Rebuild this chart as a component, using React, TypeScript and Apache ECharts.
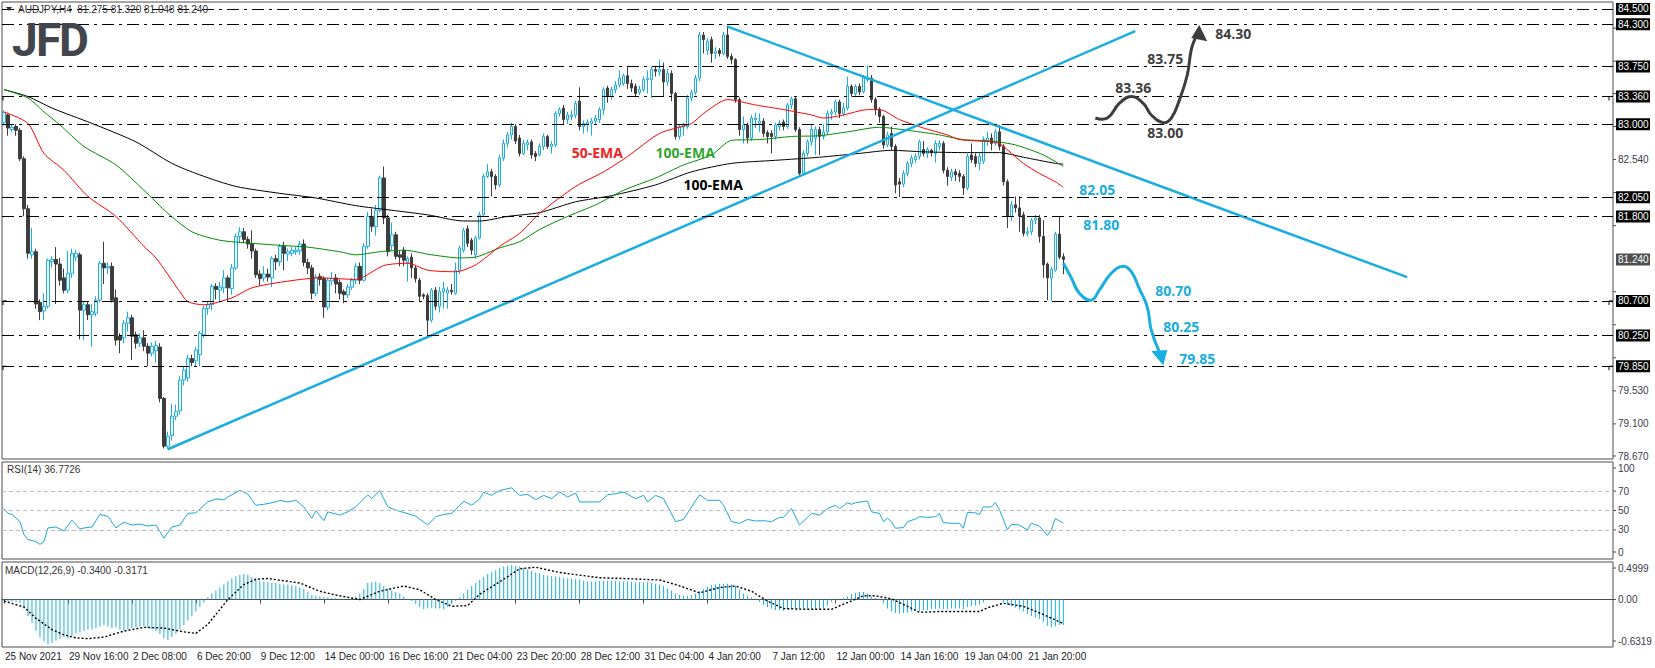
import React, { useEffect, useRef } from 'react';
import * as echarts from 'echarts';

// ---------- data ----------
const dateLabels = [
  '25 Nov 2021', '29 Nov 16:00', '2 Dec 08:00', '6 Dec 20:00', '9 Dec 12:00', '14 Dec 00:00',
  '16 Dec 16:00', '21 Dec 04:00', '23 Dec 20:00', '28 Dec 12:00', '31 Dec 04:00', '4 Jan 20:00',
  '7 Jan 12:00', '12 Jan 00:00', '14 Jan 16:00', '19 Jan 04:00', '21 Jan 20:00',
];
const barsPerLabel = 16;
const slotCount = 403;

// [open, close, low, high]
const candles: number[][] = [
  [83.02,83.15,82.98,83.18],[83.12,82.95,82.85,83.14],[82.93,82.96,82.90,83.00],[82.97,82.92,82.85,83.00],
  [82.92,82.55,82.52,82.95],[82.55,81.90,81.80,82.58],[81.90,81.32,81.25,81.95],[81.30,81.34,81.25,81.65],
  [81.34,80.66,80.60,81.38],[80.68,80.56,80.45,80.72],[80.57,80.63,80.45,80.80],[80.63,81.23,80.60,81.25],
  [81.21,81.24,81.14,81.28],[81.24,81.18,80.66,81.40],[81.18,80.97,80.90,81.26],[81.00,80.84,80.80,81.12],
  [80.84,81.06,80.80,81.35],[81.06,81.32,81.00,81.38],[81.27,81.32,81.22,81.36],[81.30,80.58,80.20,81.33],
  [80.58,80.65,80.19,80.70],[80.65,80.52,80.45,80.70],[80.52,80.56,80.10,80.66],[80.54,80.71,80.50,80.76],
  [80.71,81.19,80.68,81.22],[81.19,81.13,80.92,81.47],[81.13,81.15,81.05,81.20],[81.15,80.71,80.68,81.20],
  [80.74,80.19,80.12,80.85],[80.24,80.19,80.02,80.28],[80.22,80.41,80.15,80.45],[80.41,80.48,80.30,80.56],
  [80.48,80.24,79.93,80.52],[80.26,80.15,80.08,80.30],[80.15,80.22,80.10,80.28],[80.22,80.11,80.05,80.32],
  [80.11,80.02,79.85,80.15],[80.02,80.11,79.98,80.16],[80.05,80.12,79.90,80.18],[80.10,79.43,79.38,80.15],
  [79.43,78.81,78.78,79.45],[78.81,78.94,78.77,79.00],[78.95,79.20,78.88,79.36],[79.20,79.26,79.15,79.35],
  [79.27,79.67,79.22,79.72],[79.67,79.80,79.60,79.85],[79.70,79.95,79.65,80.00],[79.95,79.90,79.85,80.00],
  [79.92,80.06,79.85,80.10],[80.00,80.28,79.85,80.31],[80.26,80.60,80.22,80.64],[80.60,80.65,80.52,80.70],
  [80.65,80.89,80.58,80.92],[80.89,80.85,80.72,80.93],[80.84,80.88,80.68,80.95],[80.87,81.00,80.80,81.10],
  [81.00,80.87,80.70,81.03],[80.86,81.13,80.78,81.18],[81.13,81.54,81.10,81.58],[81.54,81.60,81.45,81.66],
  [81.60,81.50,81.45,81.65],[81.50,81.44,81.38,81.54],[81.44,81.35,81.25,81.62],[81.35,81.04,81.00,81.38],
  [81.05,80.99,80.90,81.10],[81.00,81.05,80.95,81.15],[81.05,81.01,80.95,81.12],[81.00,81.25,80.88,81.28],
  [81.25,81.21,81.10,81.30],[81.21,81.41,81.15,81.44],[81.41,81.32,81.10,81.47],[81.31,81.34,81.22,81.38],
  [81.32,81.36,81.28,81.40],[81.34,81.36,81.30,81.40],[81.35,81.44,81.30,81.48],[81.44,81.20,81.15,81.50],
  [81.20,81.13,81.05,81.25],[81.13,80.80,80.72,81.17],[80.80,81.01,80.76,81.05],[81.02,80.98,80.90,81.06],
  [80.99,80.62,80.48,81.02],[80.62,80.97,80.58,81.00],[80.96,80.99,80.90,81.08],[81.00,80.92,80.80,81.05],
  [80.94,80.80,80.72,80.98],[80.82,80.78,80.67,80.85],[80.78,80.88,80.74,80.92],[80.88,80.97,80.84,81.00],
  [80.97,81.15,80.92,81.19],[81.15,80.97,80.92,81.20],[80.97,81.41,80.95,81.45],[81.41,81.80,81.38,81.86],
  [81.80,81.67,81.60,81.90],[81.67,81.88,81.55,81.95],[81.88,82.30,81.85,82.33],[82.30,81.78,81.70,82.45],
  [81.78,81.34,81.28,81.82],[81.42,81.56,81.35,81.72],[81.56,81.28,81.24,81.60],[81.30,81.27,81.15,81.35],
  [81.36,81.23,81.15,81.40],[81.20,81.25,80.95,81.28],[81.27,81.13,81.00,81.32],[81.13,80.99,80.94,81.16],
  [80.97,80.76,80.70,81.00],[80.78,80.76,80.72,80.80],[80.77,80.45,80.26,80.80],[80.45,80.84,80.42,80.87],
  [80.84,80.63,80.58,80.88],[80.63,80.82,80.55,80.88],[80.82,80.86,80.60,80.95],[80.80,80.84,80.60,80.88],
  [80.84,80.82,80.78,80.92],[80.80,81.10,80.78,81.20],[81.10,81.39,81.05,81.42],[81.36,81.62,81.33,81.65],
  [81.64,81.45,81.40,81.68],[81.49,81.36,81.30,81.52],[81.30,81.52,81.25,81.55],[81.52,81.82,81.50,81.86],
  [81.82,82.32,81.80,82.36],[82.32,82.38,82.30,82.48],[82.38,82.32,82.06,82.42],[82.32,82.21,82.15,82.35],
  [82.21,82.56,82.18,82.60],[82.56,82.75,82.52,82.80],[82.75,82.86,82.70,82.90],[82.86,82.97,82.80,83.02],
  [82.97,82.78,82.74,83.00],[82.82,82.62,82.58,82.86],[82.62,82.75,82.60,82.80],[82.73,82.76,82.66,82.80],
  [82.77,82.60,82.55,82.80],[82.62,82.58,82.52,82.65],[82.60,82.71,82.58,82.75],[82.71,82.84,82.66,82.88],
  [82.84,82.71,82.68,82.86],[82.71,82.74,82.62,82.78],[82.73,83.14,82.70,83.17],[83.14,83.19,83.10,83.22],
  [83.21,83.06,83.00,83.25],[83.06,83.12,83.00,83.16],[83.10,83.12,83.05,83.18],[83.12,83.27,83.08,83.30],
  [83.30,82.97,82.92,83.48],[82.97,83.01,82.88,83.05],[83.00,83.02,82.90,83.06],[83.01,83.04,82.85,83.08],
  [83.04,83.08,83.00,83.12],[83.06,83.19,83.02,83.22],[83.19,83.45,83.12,83.48],[83.47,83.36,83.28,83.50],
  [83.36,83.45,83.32,83.49],[83.45,83.51,83.40,83.56],[83.51,83.60,83.48,83.70],[83.53,83.63,83.50,83.66],
  [83.63,83.53,83.46,83.75],[83.53,83.47,83.42,83.58],[83.49,83.40,83.36,83.53],[83.41,83.45,83.38,83.50],
  [83.45,83.58,83.42,83.62],[83.58,83.60,83.40,83.70],[83.58,83.71,83.34,83.75],[83.71,83.69,83.62,83.76],
  [83.68,83.71,83.63,83.84],[83.71,83.55,83.36,83.80],[83.55,83.66,83.50,83.72],[83.66,83.40,83.30,83.70],
  [83.40,82.84,82.80,83.42],[82.84,82.97,82.80,83.00],[82.96,82.99,82.85,83.02],[82.97,83.34,82.94,83.38],
  [83.34,83.41,83.30,83.45],[83.41,83.60,83.38,83.64],[83.60,84.16,83.56,84.20],[84.16,84.10,83.92,84.20],
  [83.96,84.08,83.90,84.12],[84.10,83.92,83.80,84.14],[83.92,83.95,83.85,84.00],[83.96,83.92,83.88,83.99],
  [83.92,84.16,83.90,84.20],[84.16,83.88,83.85,84.28],[83.88,83.84,83.78,83.92],[83.84,83.32,83.28,83.86],
  [83.32,82.93,82.85,83.35],[82.93,82.99,82.75,83.10],[82.99,82.82,82.75,83.02],[82.82,83.08,82.78,83.12],
  [83.06,83.08,82.95,83.15],[83.01,83.04,82.90,83.14],[83.04,82.88,82.83,83.08],[82.89,82.84,82.75,82.92],
  [82.88,82.84,82.62,82.92],[82.84,82.99,82.80,83.02],[82.97,83.01,82.92,83.05],[83.03,82.97,82.92,83.06],
  [82.97,83.25,82.94,83.28],[83.25,83.33,83.20,83.36],[83.33,82.93,82.90,83.36],[82.93,82.36,82.32,82.96],
  [82.36,82.62,82.34,82.66],[82.62,82.77,82.58,82.80],[82.77,82.93,82.72,83.00],[82.82,82.93,82.60,82.97],
  [82.93,82.84,82.60,82.97],[82.84,82.90,82.80,83.00],[82.90,83.14,82.86,83.18],[83.14,83.16,83.06,83.20],
  [83.16,83.29,83.12,83.32],[83.29,83.14,83.08,83.32],[83.14,83.21,83.10,83.28],[83.21,83.49,83.18,83.62],
  [83.49,83.40,83.36,83.52],[83.40,83.49,83.35,83.52],[83.49,83.42,83.38,83.53],[83.42,83.60,83.40,83.64],
  [83.58,83.61,83.55,83.76],[83.60,83.32,83.28,83.64],[83.32,83.19,83.12,83.35],[83.19,83.10,83.02,83.22],
  [83.10,82.73,82.68,83.12],[82.73,82.86,82.70,82.90],[82.88,82.71,82.66,82.97],[82.71,82.21,82.10,82.74],
  [82.25,82.22,82.05,82.30],[82.22,82.36,82.18,82.40],[82.36,82.49,82.32,82.52],[82.49,82.56,82.44,82.60],
  [82.54,82.58,82.50,82.62],[82.58,82.77,82.54,82.80],[82.67,82.62,82.58,82.78],[82.62,82.67,82.56,82.70],
  [82.66,82.63,82.58,82.68],[82.62,82.75,82.50,82.79],[82.71,82.75,82.66,82.79],[82.75,82.40,82.36,82.78],
  [82.40,82.32,82.20,82.44],[82.31,82.38,82.26,82.42],[82.38,82.34,82.26,82.42],[82.36,82.32,82.25,82.40],
  [82.32,82.17,82.08,82.35],[82.17,82.58,82.14,82.62],[82.60,82.54,82.50,82.75],[82.58,82.49,82.44,82.62],
  [82.49,82.58,82.40,82.62],[82.52,82.80,82.48,82.84],[82.78,82.82,82.72,82.90],[82.82,82.75,82.66,82.88],
  [82.75,82.90,82.72,82.94],[82.90,82.71,82.66,82.99],[82.71,82.25,82.20,82.74],[82.25,81.80,81.65,82.28],
  [81.80,81.95,81.74,82.00],[81.95,81.91,81.85,82.06],[81.91,81.80,81.60,82.06],[81.82,81.58,81.54,81.86],
  [81.58,81.60,81.54,81.66],[81.60,81.75,81.56,81.78],[81.75,81.78,81.70,81.82],[81.78,81.54,81.46,81.82],
  [81.54,81.17,81.00,81.75],[81.18,81.00,80.71,81.20],[81.00,81.11,80.70,81.14],[81.10,81.57,81.08,81.60],
  [81.57,81.27,81.24,81.80],[81.275,81.24,81.048,81.32],
];

// moving averages read at sample bars: [bar, price]
const ema50: number[][] = [
  [0,83.16],[6,83.01],[10,82.62],[15,82.40],[21,82.06],[28,81.80],[35,81.41],[38,81.26],[44,80.82],[46,80.69],
  [50,80.65],[57,80.74],[62,80.87],[70,80.95],[79,81.00],[88,80.98],[95,81.16],[101,81.19],[106,81.10],[113,81.08],
  [118,81.17],[124,81.41],[129,81.58],[134,81.84],[143,82.19],[150,82.38],[156,82.58],[164,82.88],[172,83.01],
  [175,83.14],[181,83.32],[188,83.25],[195,83.19],[202,83.12],[205,83.08],[210,83.12],[216,83.19],[219,83.19],
  [224,83.06],[230,82.95],[236,82.86],[239,82.80],[247,82.77],[249,82.75],[255,82.49],[259,82.36],[263,82.25],[265,82.18],
];
const ema100: number[][] = [
  [0,83.45],[6,83.34],[10,83.16],[14,82.99],[20,82.71],[28,82.47],[35,82.14],[41,81.84],[47,81.60],[54,81.49],
  [62,81.45],[70,81.42],[76,81.40],[84,81.34],[88,81.30],[94,81.34],[100,81.36],[107,81.30],[114,81.26],[118,81.27],
  [124,81.39],[129,81.47],[134,81.63],[141,81.80],[148,81.95],[155,82.14],[163,82.30],[170,82.47],[177,82.60],
  [182,82.79],[189,82.80],[197,82.84],[204,82.85],[211,82.90],[219,82.96],[226,82.92],[233,82.87],[240,82.80],
  [247,82.78],[253,82.73],[260,82.60],[265,82.45],
];
const ema200: number[][] = [
  [0,83.45],[6,83.36],[12,83.21],[22,83.01],[33,82.77],[42,82.49],[49,82.34],[58,82.19],[69,82.10],[78,82.04],
  [88,81.94],[97,81.88],[106,81.82],[115,81.74],[119,81.74],[126,81.80],[134,81.85],[143,81.99],[152,82.07],
  [163,82.21],[172,82.38],[182,82.49],[193,82.53],[204,82.57],[214,82.62],[222,82.66],[230,82.64],[241,82.63],
  [249,82.63],[255,82.57],[263,82.49],[265,82.48],
];

const rsi: number[][] = [
  [0,52],[1,47],[2,46],[4,38.5],[5,25],[6,20],[8,18],[9,15],[10,18],[11,32],[13,33],[15,29],[17,40],[19,31],[20,32],
  [22,33],[24,46],[26,44],[28,32],[30,38],[32,35],[34,36],[36,34],[38,35],[40,21.5],[42,33],[44,35],[46,47],[48,47.6],
  [51,58.8],[53,62],[55,61],[56,64],[59,70.7],[61,67],[63,55.4],[65,56.4],[68,58.8],[69,60.5],[71,58.8],[73,60.5],
  [75,53.7],[77,41.9],[78,49.7],[80,39.5],[81,48.6],[84,45.3],[86,48.6],[88,53.7],[91,66.3],[92,62.2],[94,70.7],
  [96,53.7],[98,50.3],[100,48],[103,44.2],[106,35],[108,43.6],[110,45.9],[112,47],[115,59.5],[117,55.4],[119,62.2],
  [120,69],[122,65.6],[124,70.7],[127,73.4],[129,65.6],[131,66.6],[133,61.2],[135,65.6],[137,62.2],[139,69],[141,63.9],
  [143,68],[144,58.8],[149,58.8],[151,66.3],[153,67.3],[155,69],[158,62.2],[160,65.6],[161,58.8],[163,65.6],[165,62.2],
  [168,38.5],[170,40.8],[172,53.7],[174,66.3],[176,60.5],[179,60.5],[180,55.4],[182,38.5],[184,36.8],[186,40.8],
  [188,39.2],[190,39.5],[192,38.5],[194,42.9],[195,42.9],[197,52],[199,35],[202,47],[204,45.3],[206,52],[208,55.4],
  [209,52],[211,58],[212,56.4],[213,58],[216,59.8],[217,48.6],[219,47],[220,38.5],[221,41.9],[222,38.5],[223,31.7],
  [225,32.4],[226,38.5],[228,41.2],[229,43.6],[231,42.9],[233,43.6],[234,47],[235,37.5],[237,36.8],[239,36.8],
  [240,31.7],[241,48],[243,47.6],[244,45.9],[245,53.7],[247,53.7],[248,58],[249,51],[251,30],[252,35.8],[254,35],
  [256,30],[257,36.8],[259,34],[261,24.2],[262,30],[263,41.9],[265,36.8],
];

const macdHist: number[] = [
  -0.02,-0.02,-0.03,-0.03,-0.05, -0.12,-0.22,-0.31,-0.42,-0.50, -0.56,-0.60,-0.58,-0.55,-0.52,
  -0.50,-0.52,-0.48,-0.45,-0.44, -0.42,-0.40,-0.40,-0.38,-0.36, -0.34,-0.36,-0.38,-0.37,-0.40,
  -0.42,-0.40,-0.38,-0.37,-0.36, -0.36,-0.38,-0.40,-0.42,-0.46, -0.52,-0.54,-0.50,-0.46,-0.40,
  -0.34,-0.28,-0.22,-0.16,-0.10, -0.04,0.03,0.08,0.12,0.16, 0.20,0.24,0.28,0.31,0.33,
  0.34,0.33,0.30,0.27,0.25, 0.24,0.23,0.22,0.22,0.21, 0.20,0.20,0.19,0.18,0.16,
  0.14,0.10,0.06,0.05,0.04, 0.03,0.03,0.02,0.02,0.01, 0.01,0.00,0.02,0.04,0.08,
  0.14,0.22,0.23,0.24,0.22, 0.18,0.15,0.12,0.10,0.08, 0.04,0.01,-0.02,-0.06,-0.10,
  -0.13,-0.12,-0.11,-0.12,-0.12, -0.13,-0.10,-0.06,-0.02,0.03, 0.08,0.13,0.18,0.22,0.26,
  0.30,0.34,0.37,0.39,0.42, 0.44,0.45,0.46,0.45,0.44, 0.42,0.40,0.38,0.36,0.35,
  0.33,0.32,0.31,0.31,0.30, 0.29,0.28,0.28,0.27,0.27, 0.25,0.24,0.24,0.24,0.25,
  0.25,0.25,0.25,0.25,0.24, 0.24,0.24,0.24,0.23,0.23, 0.23,0.23,0.22,0.21,0.20,
  0.18,0.15,0.12,0.08,0.06, 0.05,0.05,0.06,0.08,0.11, 0.14,0.17,0.19,0.20,0.21,
  0.21,0.21,0.20,0.18,0.13, 0.08,0.05,0.03,0.01,-0.03, -0.07,-0.10,-0.12,-0.14,-0.14,
  -0.15,-0.14,-0.13,-0.12,-0.12, -0.12,-0.12,-0.13,-0.13,-0.13, -0.12,-0.08,-0.03,-0.01,0.01,
  0.02,0.04,0.07,0.09,0.10, 0.10,0.08,0.04,0.02,0.01, -0.05,-0.12,-0.16,-0.18,-0.19,
  -0.18,-0.18,-0.16,-0.15,-0.15, -0.14,-0.14,-0.13,-0.13,-0.12, -0.13,-0.13,-0.12,-0.12,-0.12,
  -0.13,-0.10,-0.09,-0.08,-0.07, -0.04,-0.01,0.00,0.01,0.00, -0.04,-0.07,-0.09,-0.11,-0.13,
  -0.16,-0.19,-0.22,-0.24,-0.26, -0.30,-0.35,-0.37,-0.36,-0.34, -0.34,
];
const macdSignal: number[][] = [
  [0,-0.02],[5,-0.10],[8,-0.25],[12,-0.40],[15,-0.47],[18,-0.51],[21,-0.52],[25,-0.50],[30,-0.42],[35,-0.37],
  [40,-0.38],[45,-0.43],[48,-0.45],[51,-0.33],[56,0.0],[60,0.2],[63,0.27],[66,0.28],[70,0.25],[74,0.22],[79,0.11],
  [83,0.06],[86,0.03],[89,0.0],[94,0.11],[100,0.18],[104,0.13],[108,0.0],[112,-0.09],[116,-0.08],[119,0.07],
  [125,0.27],[129,0.41],[133,0.43],[139,0.36],[149,0.29],[155,0.28],[164,0.26],[168,0.2],[174,0.09],[179,0.16],
  [183,0.18],[187,0.11],[191,-0.02],[195,-0.12],[201,-0.13],[207,-0.13],[211,-0.04],[215,0.05],[218,0.05],
  [222,0.01],[226,-0.09],[229,-0.17],[234,-0.16],[244,-0.16],[246,-0.11],[250,-0.05],[255,-0.09],[260,-0.2],[265,-0.32],
];

const levels = [84.5, 84.3, 83.75, 83.36, 83.0, 82.05, 81.8, 80.7, 80.25, 79.85];
const markedLevels = [83.36, 80.7, 79.85];
const priceTicks = [78.67, 79.10, 79.53, 79.96, 80.39, 80.82, 81.68, 82.11, 82.54, 82.97, 83.40, 83.82, 84.25];
const lastPrice = 81.24;
const rsiTicks = [100, 70, 50, 30, 0];
const rsiLevels = [70, 50, 30];
const macdTicks = [0.4999, 0, -0.6319];
const priceRange = [78.643, 84.59];

const risingTrend = [[41, 78.77], [283, 84.21]];
const fallingTrend = [[181, 84.27], [351, 81.01]];

// projected paths (bar, price)
const bearPath = [[265.25,81.19],[267.3,81.0],[269.4,80.80],[271.5,80.71],[274.4,80.84],[276.9,81.06],[279.8,81.15],
  [281.9,81.08],[284,80.86],[285.7,80.62],[287.3,80.32],[288.8,80.04]];
const bearHead = [[289.8,79.86],[287.2,80.05],[290.9,80.06]];
const bullPath = [[273.3,83.08],[276.1,83.08],[279,83.27],[281.9,83.36],[284.8,83.27],[287.3,83.12],[289.8,83.02],
  [291.9,83.08],[294,83.31],[295.7,83.64],[297.3,83.97],[298.3,84.12]];
const bullHead = [[299.4,84.29],[296.8,84.12],[300.5,84.08]];

const bearLabels: [string, number, number][] = [
  ['82.05', 269.4, 82.153], ['81.80', 269.75, 81.70], ['80.70', 287.9, 80.83], ['80.25', 290, 80.365], ['79.85', 294.4, 79.945],
];
const bullLabels: [string, number, number][] = [
  ['84.30', 303.2, 84.18], ['83.75', 285.7, 83.858], ['83.36', 277.75, 83.471], ['83.00', 285.7, 82.889],
];
const emaLabels: [string, number, number, string][] = [
  ['50-EMA', 141.75, 82.638, '#f01e1e'], ['100-EMA', 163.25, 82.638, '#2fa52f'], ['100-EMA', 170.25, 82.214, '#000000'],
];

const BLUE = '#19ade0';
const DARK = '#3d3d3d';
const AXIS_FONT = '10px "Liberation Sans", Arial, sans-serif';
const BOLD_FONT = 'bold 14px "Open Sans", "DejaVu Sans", sans-serif';

export default function App() {
  const ref = useRef<HTMLDivElement>(null);
  useEffect(() => {
    document.body.style.margin = '0';
    const chart = echarts.init(ref.current!, undefined, { renderer: 'svg' });
    const cats = Array.from({ length: slotCount }, (_, i) =>
      i % barsPerLabel === 0 && i / barsPerLabel < dateLabels.length ? dateLabels[i / barsPerLabel] : '');
    const gridBase = { left: 2, width: 1611, show: true, borderColor: '#4d4d4d', borderWidth: 1 };
    const xAx = (gi: number) => ({
      type: 'category', gridIndex: gi, data: cats, boundaryGap: true,
      axisLine: { show: gi === 2, lineStyle: { color: '#4d4d4d' } },
      axisTick: {
        show: gi === 2, alignWithLabel: true, length: 4, lineStyle: { color: '#4d4d4d' },
        interval: (i: number, v: string) => v !== '',
      },
      axisLabel: {
        show: gi === 2, interval: (i: number, v: string) => v !== '', align: 'left', margin: 4,
        color: '#222', fontSize: 10, fontFamily: '"Liberation Sans", Arial, sans-serif', padding: [0, 0, 0, 1],
      },
      splitLine: { show: false },
    });
    const lineS = (data: number[][], color: string, width: number, gi = 0, extra: any = {}) => ({
      type: 'line', xAxisIndex: gi, yAxisIndex: gi, data, showSymbol: false, symbol: 'none', silent: true,
      lineStyle: { color, width }, ...extra,
    });
    const option: any = {
      animation: false,
      backgroundColor: '#ffffff',
      grid: [
        { ...gridBase, top: 2, height: 457 },
        { ...gridBase, top: 462, height: 97 },
        { ...gridBase, top: 562, height: 85 },
      ],
      xAxis: [xAx(0), xAx(1), xAx(2)],
      yAxis: [
        { type: 'value', gridIndex: 0, min: priceRange[0], max: priceRange[1], show: false },
        { type: 'value', gridIndex: 1, min: 0, max: 100, show: false },
        { type: 'value', gridIndex: 2, min: -0.6319, max: 0.4999, show: false },
      ],
      series: [
        {
          type: 'candlestick', xAxisIndex: 0, yAxisIndex: 0, data: candles, barWidth: 3, silent: true,
          itemStyle: { color: '#ffffff', color0: DARK, borderColor: BLUE, borderColor0: DARK, borderWidth: 1 },
          markLine: {
            silent: true, symbol: 'none', label: { show: false },
            lineStyle: { color: '#000', width: 1, type: [12, 5, 3, 5] },
            data: levels.map((v) => ({ yAxis: v })),
          },
        },
        lineS(ema200, '#000000', 1, 0, { smooth: 0.25 }),
        lineS(ema100, '#008a00', 1, 0, { smooth: 0.25 }),
        lineS(ema50, '#ff0000', 1, 0, { smooth: 0.25 }),
        lineS(risingTrend, BLUE, 2.5),
        lineS(fallingTrend, BLUE, 2.5),
        lineS(rsi, '#1aa7d8', 1, 1, {
          markLine: {
            silent: true, symbol: 'none', label: { show: false },
            lineStyle: { color: '#bdbdbd', width: 1, type: [4, 3] },
            data: rsiLevels.map((v) => ({ yAxis: v })),
          },
        }),
        {
          type: 'bar', xAxisIndex: 2, yAxisIndex: 2, data: macdHist, barWidth: 1, silent: true,
          itemStyle: { color: '#1ab0e0' },
        },
        lineS(macdSignal, '#000000', 1.4, 2, { lineStyle: { color: '#000', width: 1.4, type: [2, 2] } }),
      ],
    };
    chart.setOption(option);

    const P = (gi: number, x: number, y: number) =>
      chart.convertToPixel({ xAxisIndex: gi, yAxisIndex: gi } as any, [x, y]) as number[];
    const g: any[] = [];
    const txt = (text: string, x: number, y: number, fill: string, font: string, extra: any = {}) => ({
      type: 'text', x, y, z: 100, silent: true,
      style: {
        text, fill, font, align: 'left', verticalAlign: 'middle', textAlign: 'left', textVerticalAlign: 'middle', ...extra,
      },
    });
    const axisX = 1613;

    // header
    g.push({ type: 'polygon', z: 100, shape: { points: [[6, 7], [12, 7], [9, 11]] }, style: { fill: '#333' } });
    g.push(txt('AUDJPY,H4  81.275 81.320 81.048 81.240', 18, 9.5, '#333', AXIS_FONT));
    // logo
    const logoFont = 'bold 46px Roboto, "DejaVu Sans", sans-serif';
    g.push(txt('J', 12, 40, '#42454c', logoFont));
    g.push(txt('F', 36, 40, '#42454c', logoFont));
    g.push(txt('D', 59, 40, '#42454c', logoFont));

    // main price axis labels (regular ticks hidden under a level box are skipped)
    const boxed = [...levels, lastPrice].map((v) => P(0, 0, v)[1]);
    priceTicks.forEach((v) => {
      const y = Math.min(P(0, 0, v)[1], 456);
      g.push({ type: 'line', z: 100, shape: { x1: axisX, y1: y, x2: axisX + 3, y2: y }, style: { stroke: '#4d4d4d', lineWidth: 1 } });
      if (boxed.some((b) => Math.abs(b - y) < 12)) return;
      g.push(txt(v.toFixed(3), 1618, y, '#3a3a4a', AXIS_FONT));
    });
    levels.forEach((v) => {
      const y = P(0, 0, v)[1];
      g.push({ type: 'rect', z: 101, shape: { x: 1616, y: y - 6, width: 34, height: 12 }, style: { fill: '#000' } });
      g.push({ ...txt(v.toFixed(3), 1618, y, '#ffffff', AXIS_FONT), z: 102 });
    });
    {
      const y = P(0, 0, lastPrice)[1];
      g.push({ type: 'rect', z: 101, shape: { x: 1616, y: y - 6, width: 34, height: 12 }, style: { fill: '#4f4f4f' } });
      g.push({ ...txt(lastPrice.toFixed(3), 1618, y, '#ffffff', AXIS_FONT), z: 102 });
    }
    markedLevels.forEach((v) => {
      const y = P(0, 0, v)[1];
      g.push({ type: 'polyline', z: 100, shape: { points: [[axisX - 4, y + 4], [axisX - 4, y], [axisX, y]] }, style: { stroke: '#000', lineWidth: 1, fill: 'none' } });
      g.push({ type: 'polyline', z: 100, shape: { points: [[3, y + 4], [3, y], [7, y]] }, style: { stroke: '#000', lineWidth: 1, fill: 'none' } });
    });

    // RSI labels
    g.push(txt('RSI(14) 36.7726', 7, 469, '#333', AXIS_FONT));
    rsiTicks.forEach((v) => {
      let y = P(1, 0, v)[1];
      if (v === 100) y += 6;
      if (v === 0) y -= 7;
      g.push(txt(String(v), 1618, y, '#3a3a4a', AXIS_FONT));
      g.push({ type: 'line', z: 100, shape: { x1: axisX, y1: y, x2: axisX + 3, y2: y }, style: { stroke: '#4d4d4d', lineWidth: 1 } });
    });
    // MACD labels
    g.push(txt('MACD(12,26,9) -0.3400 -0.3171', 5, 570, '#333', AXIS_FONT));
    macdTicks.forEach((v) => {
      let y = P(2, 0, v)[1];
      if (v > 0) y += 6;
      if (v < 0) y -= 6;
      g.push(txt(v === 0 ? '0.00' : v.toFixed(4), 1618, y, '#3a3a4a', AXIS_FONT));
      g.push({ type: 'line', z: 100, shape: { x1: axisX, y1: y, x2: axisX + 3, y2: y }, style: { stroke: '#4d4d4d', lineWidth: 1 } });
    });

    // EMA labels
    emaLabels.forEach(([t, x, y, c]) => {
      const p = P(0, x, y);
      g.push(txt(t, p[0], p[1], c, BOLD_FONT));
    });
    // projections
    const toPts = (arr: number[][]) => arr.map(([x, y]) => P(0, x, y));
    g.push({ type: 'polyline', z: 100, shape: { points: toPts(bearPath), smooth: 0.45 }, style: { stroke: BLUE, lineWidth: 3, fill: 'none' } });
    g.push({ type: 'polygon', z: 100, shape: { points: toPts(bearHead) }, style: { fill: BLUE } });
    g.push({ type: 'polyline', z: 100, shape: { points: toPts(bullPath), smooth: 0.45 }, style: { stroke: DARK, lineWidth: 3, fill: 'none' } });
    g.push({ type: 'polygon', z: 100, shape: { points: toPts(bullHead) }, style: { fill: DARK } });
    bearLabels.forEach(([t, x, y]) => {
      const p = P(0, x, y);
      g.push(txt(t, p[0], p[1], BLUE, BOLD_FONT));
    });
    bullLabels.forEach(([t, x, y]) => {
      const p = P(0, x, y);
      g.push(txt(t, p[0], p[1], '#404040', BOLD_FONT));
    });

    chart.setOption({ graphic: g });
    return () => chart.dispose();
  }, []);
  return <div ref={ref} style={{ position: 'absolute', left: 0, top: 0, width: 1655, height: 668 }} />;
}
